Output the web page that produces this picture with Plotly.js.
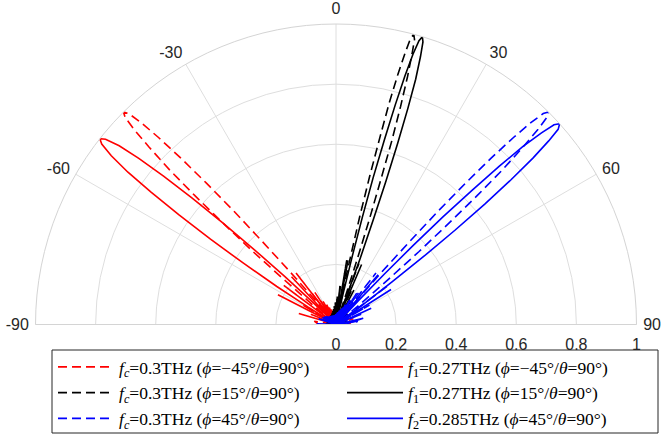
<!DOCTYPE html>
<html>
<head>
<meta charset="utf-8">
<script src="https://cdn.plot.ly/plotly-3.0.1.min.js"></script>
<style>html,body{margin:0;padding:0;background:#fff;}#plot{width:664px;height:437px;}</style>
</head>
<body>
<div id="plot"></div>
<script>
// angular ticks
const angTickVals = [-90, -60, -30, 0, 30, 60, 90];
const angTickText = ['-90', '-60', '-30', '0', '30', '60', '90'];
const radTickVals = [0, 0.2, 0.4, 0.6, 0.8, 1];
const radTickText = ['0', '0.2', '0.4', '0.6', '0.8', '1'];

const legendNames = [
  '<i>f</i><sub><i>c</i></sub>=0.3THz (<i>ϕ</i>=−45°/<i>θ</i>=90°)',
  '<i>f</i><sub>1</sub>=0.27THz (<i>ϕ</i>=−45°/<i>θ</i>=90°)',
  '<i>f</i><sub><i>c</i></sub>=0.3THz (<i>ϕ</i>=15°/<i>θ</i>=90°)',
  '<i>f</i><sub>1</sub>=0.27THz (<i>ϕ</i>=15°/<i>θ</i>=90°)',
  '<i>f</i><sub><i>c</i></sub>=0.3THz (<i>ϕ</i>=45°/<i>θ</i>=90°)',
  '<i>f</i><sub>2</sub>=0.285THz (<i>ϕ</i>=45°/<i>θ</i>=90°)'
];

// fc = 0.3 THz, phi = -45 (red dashed)
const thetaFcM45 = [-90,-81.3,-73.1,-67.8,-63.5,-59.7,-56.3,-53.2,-50.3,-49.8,-49.2,-48.7,-48.1,-47.6,-47.1,-46.5,-46.0,-45.5,-45,-44.5,-44.0,-43.5,-43.0,-42.5,-42.0,-41.6,-41.1,-40.6,-40.1,-37.8,-35.6,-33.4,-31.3,-29.2,-27.2,-25.2,-23.2,-21.3,-19.4,-17.5,-15.6,-13.8,-12.0,-10.1,-8.3,-6.5,-4.7,-2.9,-1.1,0.7,2.5,4.3,6.1,7.9,9.7,11.5,13.3,15.2,17.0,18.9,20.8,22.7,24.7,26.7,28.7,30.8,32.9,35.0,37.3,39.5,41.9,44.4,46.9,49.6,52.5,55.5,58.8,62.5,66.6,71.7,78.6,90];
const rFcM45 = [0.058,0.073,0,0.093,0,0.129,0,0.217,0,0.109,0.234,0.368,0.505,0.637,0.757,0.858,0.935,0.984,1,0.984,0.935,0.858,0.757,0.637,0.505,0.368,0.234,0.109,0,0.217,0,0.129,0,0.093,0,0.073,0,0.061,0,0.052,0,0.047,0,0.042,0,0.039,0,0.036,0,0.035,0,0.033,0,0.032,0,0.032,0,0.031,0,0.031,0,0.032,0,0.032,0,0.033,0,0.035,0,0.036,0,0.039,0,0.042,0,0.047,0,0.052,0,0.061,0,0.058];

// f1 = 0.27 THz, phi = -45 (red solid)
const thetaF1M45 = [-90,-83.7,-73.6,-67.6,-62.9,-58.8,-58.0,-57.3,-56.5,-55.8,-55.1,-54.4,-53.8,-53.1,-52.4,-51.8,-51.2,-50.5,-49.9,-49.3,-48.7,-48.1,-47.5,-46.9,-46.3,-45.8,-43.0,-40.3,-37.7,-35.3,-32.9,-30.5,-28.2,-26.0,-23.8,-21.7,-19.5,-17.4,-15.4,-13.3,-11.3,-9.2,-7.2,-5.2,-3.2,-1.3,0.7,2.7,4.7,6.7,8.7,10.8,12.8,14.8,16.9,19.0,21.1,23.3,25.4,27.7,29.9,32.3,34.6,37.1,39.6,42.3,45.0,47.9,51.0,54.2,57.8,61.8,66.3,71.9,80.1,90];
const rF1M45 = [0.028,0,0.129,0,0.217,0,0.109,0.234,0.368,0.505,0.637,0.757,0.858,0.935,0.984,1,0.984,0.935,0.858,0.757,0.637,0.505,0.368,0.234,0.109,0,0.217,0,0.129,0,0.093,0,0.073,0,0.061,0,0.052,0,0.047,0,0.042,0,0.039,0,0.036,0,0.035,0,0.033,0,0.032,0,0.032,0,0.031,0,0.031,0,0.032,0,0.032,0,0.033,0,0.035,0,0.036,0,0.039,0,0.042,0,0.047,0,0.052,0.043];

// fc = 0.3 THz, phi = 15 (black dashed)
const thetaFc15 = [-90,-82.4,-73.7,-68.2,-63.8,-60.0,-56.6,-53.5,-50.6,-47.8,-45.2,-42.7,-40.4,-38.0,-35.8,-33.6,-31.5,-29.4,-27.4,-25.4,-23.4,-21.5,-19.6,-17.7,-15.8,-14.0,-12.1,-10.3,-8.5,-6.7,-4.9,-3.1,-1.3,0.5,2.3,4.1,5.9,7.7,9.5,11.3,11.7,12.1,12.4,12.8,13.2,13.5,13.9,14.3,14.6,15,15.4,15.7,16.1,16.5,16.9,17.2,17.6,18.0,18.4,18.7,20.6,22.6,24.5,26.5,28.5,30.6,32.7,34.8,37.1,39.3,41.7,44.1,46.7,49.4,52.2,55.2,58.5,62.1,66.2,71.1,77.8,90];
const rFc15 = [0.015,0,0.033,0,0.032,0,0.032,0,0.031,0,0.031,0,0.032,0,0.032,0,0.033,0,0.035,0,0.036,0,0.039,0,0.042,0,0.047,0,0.052,0,0.061,0,0.073,0,0.093,0,0.129,0,0.217,0,0.109,0.234,0.368,0.505,0.637,0.757,0.858,0.935,0.984,1,0.984,0.935,0.858,0.757,0.637,0.505,0.368,0.234,0.109,0,0.217,0,0.129,0,0.093,0,0.073,0,0.061,0,0.052,0,0.047,0,0.042,0,0.039,0,0.036,0,0.035,0.015];

// f1 = 0.27 THz, phi = 15 (black solid)
const thetaF1_15 = [-90,-85.6,-74.2,-68.1,-63.2,-59.1,-55.4,-52.1,-48.9,-46.0,-43.2,-40.5,-38.0,-35.5,-33.1,-30.7,-28.4,-26.2,-24.0,-21.8,-19.7,-17.6,-15.5,-13.5,-11.4,-9.4,-7.4,-5.4,-3.4,-1.4,0.6,2.6,4.6,6.6,8.6,10.6,12.6,13.0,13.4,13.8,14.2,14.7,15.1,15.5,15.9,16.3,16.7,17.1,17.5,18.0,18.4,18.8,19.2,19.6,20.1,20.5,20.9,23.1,25.3,27.5,29.7,32.1,34.4,36.9,39.4,42.0,44.8,47.6,50.7,54.0,57.5,61.4,65.9,71.3,79.1,90];
const rF1_15 = [0.032,0.032,0,0.032,0,0.031,0,0.031,0,0.032,0,0.032,0,0.033,0,0.035,0,0.036,0,0.039,0,0.042,0,0.047,0,0.052,0,0.061,0,0.073,0,0.093,0,0.129,0,0.217,0,0.109,0.234,0.368,0.505,0.637,0.757,0.858,0.935,0.984,1,0.984,0.935,0.858,0.757,0.637,0.505,0.368,0.234,0.109,0,0.217,0,0.129,0,0.093,0,0.073,0,0.061,0,0.052,0,0.047,0,0.042,0,0.039,0,0.027];

// fc = 0.3 THz, phi = 45 (blue dashed)
const thetaFc45 = [-90,-78.6,-71.7,-66.6,-62.5,-58.8,-55.5,-52.5,-49.6,-46.9,-44.4,-41.9,-39.5,-37.3,-35.0,-32.9,-30.8,-28.7,-26.7,-24.7,-22.7,-20.8,-18.9,-17.0,-15.2,-13.3,-11.5,-9.7,-7.9,-6.1,-4.3,-2.5,-0.7,1.1,2.9,4.7,6.5,8.3,10.1,12.0,13.8,15.6,17.5,19.4,21.3,23.2,25.2,27.2,29.2,31.3,33.4,35.6,37.8,40.1,40.6,41.1,41.6,42.0,42.5,43.0,43.5,44.0,44.5,45,45.5,46.0,46.5,47.1,47.6,48.1,48.7,49.2,49.8,50.3,53.2,56.3,59.7,63.5,67.8,73.1,81.3,90];
const rFc45 = [0.058,0,0.061,0,0.052,0,0.047,0,0.042,0,0.039,0,0.036,0,0.035,0,0.033,0,0.032,0,0.032,0,0.031,0,0.031,0,0.032,0,0.032,0,0.033,0,0.035,0,0.036,0,0.039,0,0.042,0,0.047,0,0.052,0,0.061,0,0.073,0,0.093,0,0.129,0,0.217,0,0.109,0.234,0.368,0.505,0.637,0.757,0.858,0.935,0.984,1,0.984,0.935,0.858,0.757,0.637,0.505,0.368,0.234,0.109,0,0.217,0,0.129,0,0.093,0,0.073,0.058];

// f2 = 0.285 THz, phi = 45 (blue solid)
const thetaF2_45 = [-90,-87.6,-75.1,-69.0,-64.2,-60.2,-56.6,-53.3,-50.3,-47.4,-44.7,-42.1,-39.6,-37.2,-34.9,-32.6,-30.4,-28.2,-26.1,-24.0,-22.0,-20.0,-18.0,-16.0,-14.0,-12.1,-10.2,-8.3,-6.4,-4.5,-2.6,-0.7,1.2,3.1,5.0,6.9,8.8,10.7,12.6,14.5,16.5,18.5,20.5,22.5,24.5,26.6,28.8,30.9,33.2,35.4,37.8,40.2,42.7,43.2,43.8,44.3,44.8,45.4,45.9,46.4,47.0,47.5,48.1,48.7,49.2,49.8,50.4,51.0,51.6,52.2,52.8,53.5,54.1,57.5,61.2,65.3,70.3,77.1,90];
const rF2_45 = [0.061,0.061,0,0.052,0,0.047,0,0.042,0,0.039,0,0.036,0,0.035,0,0.033,0,0.032,0,0.032,0,0.031,0,0.031,0,0.032,0,0.032,0,0.033,0,0.035,0,0.036,0,0.039,0,0.042,0,0.047,0,0.052,0,0.061,0,0.073,0,0.093,0,0.129,0,0.217,0,0.109,0.234,0.368,0.505,0.637,0.757,0.858,0.935,0.984,1,0.984,0.935,0.858,0.757,0.637,0.505,0.368,0.234,0.109,0,0.217,0,0.129,0,0.093,0.029];

const dashPat = '9px,5px';
function tr(theta, r, color, dash, name) {
  return {type: 'scatterpolar', mode: 'lines', theta: theta, r: r, name: name,
    line: {color: color, width: 1.6, dash: dash}, hoverinfo: 'skip'};
}

const data = [
  tr(thetaFcM45, rFcM45, '#ff0000', dashPat, legendNames[0]),
  tr(thetaF1M45, rF1M45, '#ff0000', 'solid', legendNames[1]),
  tr(thetaFc15, rFc15, '#000000', dashPat, legendNames[2]),
  tr(thetaF1_15, rF1_15, '#000000', 'solid', legendNames[3]),
  tr(thetaFc45, rFc45, '#0000ff', dashPat, legendNames[4]),
  tr(thetaF2_45, rF2_45, '#0000ff', 'solid', legendNames[5])
];

const W = 664, H = 437;
const tickFont = {family: 'Liberation Sans, Arial, sans-serif', size: 16, color: '#262626'};
const layout = {
  width: W, height: H,
  margin: {l: 0, r: 0, t: 0, b: 0, autoexpand: false},
  paper_bgcolor: '#ffffff',
  showlegend: true,
  polar: {
    domain: {x: [34/W, 638/W], y: [112.5/H, 413/H]},
    sector: [0, 180],
    bgcolor: '#ffffff',
    angularaxis: {
      rotation: 90, direction: 'clockwise',
      tickmode: 'array', tickvals: angTickVals, ticktext: angTickText,
      showgrid: true, gridcolor: '#dedede', gridwidth: 1,
      showline: true, linecolor: '#d4d4d4', linewidth: 1,
      ticks: 'outside', ticklen: 3, tickcolor: 'rgba(0,0,0,0)', tickfont: tickFont
    },
    radialaxis: {
      range: [0, 1], angle: 0, side: 'clockwise',
      tickmode: 'array', tickvals: radTickVals, ticktext: radTickText,
      showgrid: true, gridcolor: '#dedede', gridwidth: 1,
      showline: false, ticks: 'outside', ticklen: 6, tickcolor: 'rgba(0,0,0,0)', tickfont: tickFont
    }
  },
  legend: {
    orientation: 'h',
    x: 53/W, y: 1 - 349/H, xanchor: 'left', yanchor: 'top',
    bgcolor: 'rgba(0,0,0,0)', borderwidth: 0,
    font: {family: 'Liberation Serif, Times New Roman, serif', size: 17.5, color: '#000000'},
    entrywidth: 218, entrywidthmode: 'pixels',
    itemwidth: 56
  },
  shapes: [{
    type: 'rect', xref: 'paper', yref: 'paper',
    x0: 52/W, x1: 658/W, y0: 1 - 433/H, y1: 1 - 350/H,
    line: {color: '#262626', width: 1}, fillcolor: 'rgba(0,0,0,0)', layer: 'above'
  }]
};

Plotly.newPlot('plot', data, layout, {displayModeBar: false, staticPlot: true});
</script>
</body>
</html>
